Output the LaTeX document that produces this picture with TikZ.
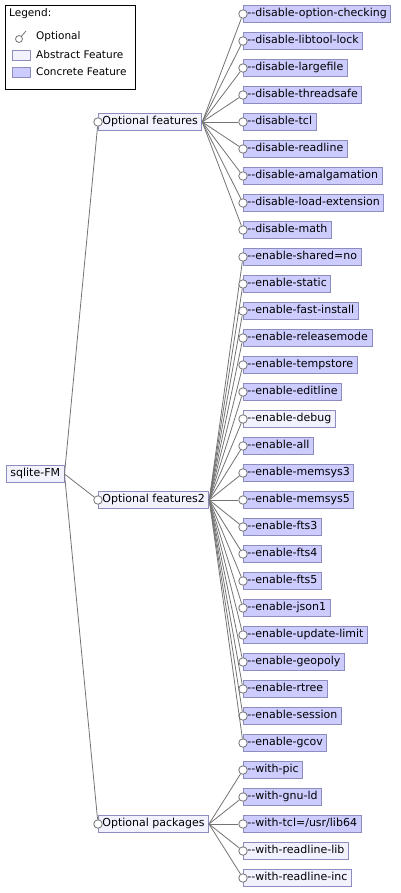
\documentclass[tikz,border=0pt]{standalone}
\usepackage{fontspec}
\setmainfont{DejaVu Sans}[Ligatures=TeXOff]
\usetikzlibrary{positioning}

\definecolor{concretefill}{RGB}{204,204,255}
\definecolor{abstractfill}{RGB}{242,242,255}
\definecolor{featframe}{RGB}{140,140,190}
\definecolor{edgegray}{RGB}{115,115,115}

\tikzset{
  feat/.style={draw=featframe, line width=0.8pt, anchor=west, inner xsep=4pt,
    minimum height=17pt, text height=8pt, text depth=2.5pt,
    font=\fontsize{11}{13}\selectfont},
  concretefeat/.style={feat, fill=concretefill},
  abstractfeat/.style={feat, fill=abstractfill},
  optmark/.style={circle, draw=edgegray, fill=white, line width=0.8pt,
    inner sep=0pt, minimum size=8.5pt},
  link/.style={draw=edgegray, line width=0.8pt},
  legendtext/.style={anchor=west, inner sep=0pt, font=\fontsize{10.5}{12}\selectfont}
}

% leaf feature: name, y, style, label, parent
\newcommand{\leaf}[5]{%
  \node[#3] (#1) at (243,#2) {#4};
  \node[optmark] (#1o) at (#1.west) {};
  \draw[link] (#5.east) -- (#1o);
}

\begin{document}
\begin{tikzpicture}[x=1pt, y=-1pt]
  \useasboundingbox (0,0) rectangle (400,893);

  % legend
  \node[draw, line width=0.8pt, anchor=north west, minimum width=130pt,
    minimum height=84pt, inner sep=0pt] (legend) at (5,5) {};
  \node[legendtext] (legtitle) at (9,14) {Legend:};
  \node[optmark, minimum size=7pt] (legopt) at (19,39) {};
  \coordinate (legopttip) at (26,31);
  \draw[link] (legopt) -- (legopttip);
  \node[legendtext] (legopttxt) at (36,37) {Optional};
  \node[draw=featframe, fill=abstractfill, line width=0.8pt, minimum width=18pt,
    minimum height=10pt, inner sep=0pt] (legabs) at (21,55) {};
  \node[legendtext] (legabstxt) at (36,55) {Abstract Feature};
  \node[draw=featframe, fill=concretefill, line width=0.8pt, minimum width=18pt,
    minimum height=10pt, inner sep=0pt] (legcon) at (21,72) {};
  \node[legendtext] (legcontxt) at (36,72) {Concrete Feature};

  % root and groups
  \node[abstractfeat] (root) at (6,474) {sqlite-FM};
  \node[abstractfeat] (optf) at (98,122) {Optional features};
  \node[optmark] (optfo) at (optf.west) {};
  \node[abstractfeat] (optftwo) at (98,500) {Optional features2};
  \node[optmark] (optftwoo) at (optftwo.west) {};
  \node[abstractfeat] (optp) at (98,824) {Optional packages};
  \node[optmark] (optpo) at (optp.west) {};
  \draw[link] (root.east) -- (optfo);
  \draw[link] (root.east) -- (optftwoo);
  \draw[link] (root.east) -- (optpo);

  % disable options
  \leaf{dopt}{14}{concretefeat}{--disable-option-checking}{optf}
  \leaf{dlib}{41}{concretefeat}{--disable-libtool-lock}{optf}
  \leaf{dlarge}{68}{concretefeat}{--disable-largefile}{optf}
  \leaf{dthread}{95}{concretefeat}{--disable-threadsafe}{optf}
  \leaf{dtcl}{122}{concretefeat}{--disable-tcl}{optf}
  \leaf{dread}{149}{concretefeat}{--disable-readline}{optf}
  \leaf{damal}{176}{concretefeat}{--disable-amalgamation}{optf}
  \leaf{dload}{203}{concretefeat}{--disable-load-extension}{optf}
  \leaf{dmath}{230}{concretefeat}{--disable-math}{optf}

  % enable options
  \leaf{eshared}{257}{concretefeat}{--enable-shared=no}{optftwo}
  \leaf{estatic}{284}{concretefeat}{--enable-static}{optftwo}
  \leaf{efast}{311}{concretefeat}{--enable-fast-install}{optftwo}
  \leaf{erel}{338}{concretefeat}{--enable-releasemode}{optftwo}
  \leaf{etemp}{365}{concretefeat}{--enable-tempstore}{optftwo}
  \leaf{eedit}{392}{concretefeat}{--enable-editline}{optftwo}
  \leaf{edebug}{419}{abstractfeat}{--enable-debug}{optftwo}
  \leaf{eall}{446}{concretefeat}{--enable-all}{optftwo}
  \leaf{emthree}{473}{concretefeat}{--enable-memsys3}{optftwo}
  \leaf{emfive}{500}{concretefeat}{--enable-memsys5}{optftwo}
  \leaf{ftsthree}{527}{concretefeat}{--enable-fts3}{optftwo}
  \leaf{ftsfour}{554}{concretefeat}{--enable-fts4}{optftwo}
  \leaf{ftsfive}{581}{concretefeat}{--enable-fts5}{optftwo}
  \leaf{ejson}{608}{concretefeat}{--enable-json1}{optftwo}
  \leaf{eupd}{635}{concretefeat}{--enable-update-limit}{optftwo}
  \leaf{egeo}{662}{concretefeat}{--enable-geopoly}{optftwo}
  \leaf{ertree}{689}{concretefeat}{--enable-rtree}{optftwo}
  \leaf{esess}{716}{concretefeat}{--enable-session}{optftwo}
  \leaf{egcov}{743}{concretefeat}{--enable-gcov}{optftwo}

  % with packages
  \leaf{wpic}{770}{concretefeat}{--with-pic}{optp}
  \leaf{wgnu}{797}{concretefeat}{--with-gnu-ld}{optp}
  \leaf{wtcl}{824}{concretefeat}{--with-tcl=/usr/lib64}{optp}
  \leaf{wrlib}{851}{abstractfeat}{--with-readline-lib}{optp}
  \leaf{wrinc}{878}{abstractfeat}{--with-readline-inc}{optp}
\end{tikzpicture}
\end{document}
